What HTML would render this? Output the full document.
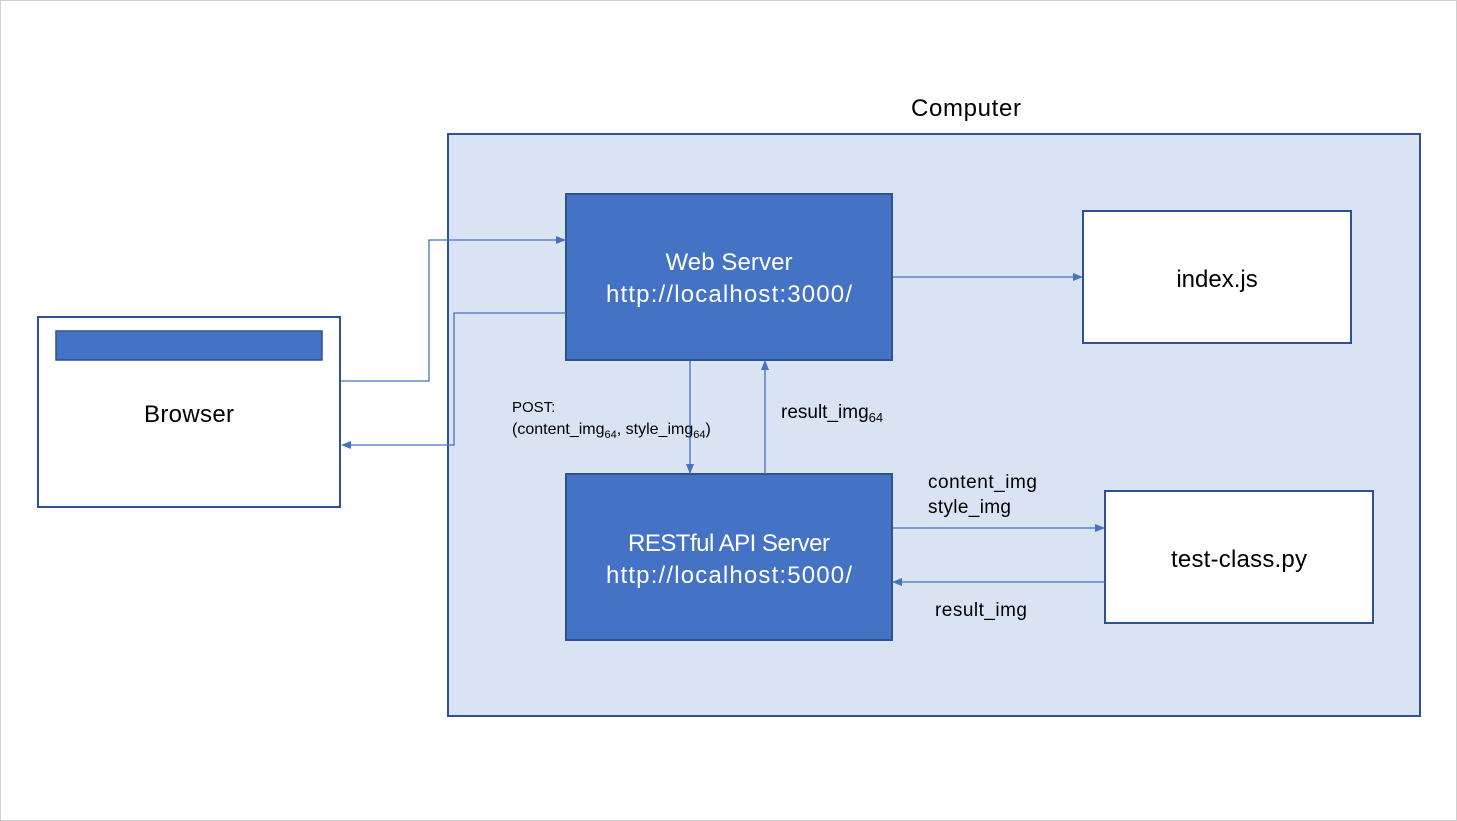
<!DOCTYPE html>
<html><head><meta charset="utf-8"><style>
html,body{margin:0;padding:0;background:#fff}
svg{display:block}
text{font-family:"Liberation Sans",sans-serif}
</style></head><body>
<svg width="1457" height="821" viewBox="0 0 1457 821" xmlns="http://www.w3.org/2000/svg">
<defs><marker id="a" markerWidth="10" markerHeight="8" refX="9" refY="4" orient="auto" markerUnits="userSpaceOnUse"><path d="M0,0L10,4L0,8z" fill="#4472C4"/></marker></defs>
<rect x="0.5" y="0.5" width="1456" height="820" fill="#fff" stroke="#d0d0d0"/>
<text x="966" y="116" font-size="24" text-anchor="middle" fill="#000" textLength="110">Computer</text>
<rect x="448" y="134" width="972" height="582" fill="#DAE3F3" stroke="#2F528F" stroke-width="2"/>
<rect x="566" y="194" width="326" height="166" fill="#4472C4" stroke="#2F528F" stroke-width="2"/>
<text x="729" y="270" font-size="24" text-anchor="middle" fill="#fff" textLength="127">Web Server</text>
<text x="729" y="302" font-size="24" text-anchor="middle" fill="#fff" textLength="246">http://localhost:3000/</text>
<rect x="1083" y="211" width="268" height="132" fill="#fff" stroke="#2F528F" stroke-width="2"/>
<text x="1217" y="287" font-size="24" text-anchor="middle">index.js</text>
<rect x="566" y="474" width="326" height="166" fill="#4472C4" stroke="#2F528F" stroke-width="2"/>
<text x="729" y="551" font-size="24" text-anchor="middle" fill="#fff" textLength="202">RESTful API Server</text>
<text x="729" y="583" font-size="24" text-anchor="middle" fill="#fff" textLength="246">http://localhost:5000/</text>
<rect x="1105" y="491" width="268" height="132" fill="#fff" stroke="#2F528F" stroke-width="2"/>
<text x="1239" y="567" font-size="24" text-anchor="middle" textLength="136">test-class.py</text>
<rect x="38" y="317" width="302" height="190" fill="#fff" stroke="#2F528F" stroke-width="2"/>
<rect x="56" y="331" width="266" height="29" fill="#4472C4" stroke="#2F528F" stroke-width="1.5"/>
<text x="189" y="422" font-size="24" text-anchor="middle" textLength="90">Browser</text>
<g fill="none" stroke="#4472C4" stroke-width="1.3">
<path d="M341,381H429V240H565" marker-end="url(#a)"/>
<path d="M566,313H454V445H342" marker-end="url(#a)"/>
<path d="M690,361V473" marker-end="url(#a)"/>
<path d="M765,474V361" marker-end="url(#a)"/>
<path d="M893,277H1082" marker-end="url(#a)"/>
<path d="M893,528H1104" marker-end="url(#a)"/>
<path d="M1105,582H893" marker-end="url(#a)"/>
</g>
<text x="512" y="412" font-size="15">POST:</text>
<text x="512" y="434" font-size="16">(content_img<tspan font-size="11" dy="4">64</tspan><tspan dy="-4">, style_img</tspan><tspan font-size="11" dy="4">64</tspan><tspan dy="-4">)</tspan></text>
<text x="781" y="418" font-size="19">result_img<tspan font-size="13" dy="4">64</tspan></text>
<text x="928" y="488" font-size="19" textLength="109">content_img</text>
<text x="928" y="513" font-size="19" textLength="83">style_img</text>
<text x="935" y="616" font-size="19" textLength="92">result_img</text>
</svg>
</body></html>
